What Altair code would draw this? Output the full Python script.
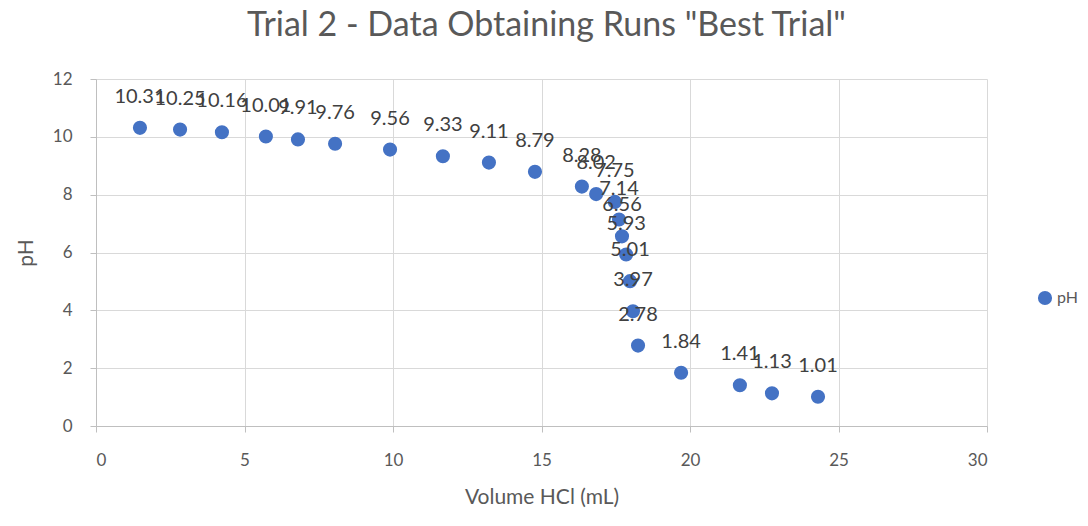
import altair as alt
import pandas as pd

volume = [1.48, 2.83, 4.24, 5.72, 6.80, 8.05, 9.90, 11.68, 13.23, 14.78, 16.36, 16.84,
          17.47, 17.61, 17.71, 17.85, 17.98, 18.08, 18.25, 19.70, 21.68, 22.76, 24.31]
ph = [10.31, 10.25, 10.16, 10.01, 9.91, 9.76, 9.56, 9.33, 9.11, 8.79, 8.28, 8.02,
      7.75, 7.14, 6.56, 5.93, 5.01, 3.97, 2.78, 1.84, 1.41, 1.13, 1.01]
labels = ["10.31", "10.25", "10.16", "10.01", "9.91", "9.76", "9.56", "9.33", "9.11", "8.79",
          "8.28", "8.02", "7.75", "7.14", "6.56", "5.93", "5.01", "3.97", "2.78", "1.84",
          "1.41", "1.13", "1.01"]

df = pd.DataFrame({"volume": volume, "ph": ph, "label": labels, "series": ["pH"] * len(ph)})

FONT = "Lato"
GRAY = "#595959"

x = alt.X("volume:Q", scale=alt.Scale(domain=[0, 30], nice=False),
          axis=alt.Axis(values=[0, 5, 10, 15, 20, 25, 30], title="Volume HCl (mL)",
                        titleFontSize=21, titleFont=FONT, titleColor=GRAY, titleFontWeight="normal",
                        labelFontSize=17, labelFont=FONT, labelColor=GRAY, labelPadding=20,
                        titlePadding=18, domainColor="#bfbfbf", tickColor="#bfbfbf",
                        tickSize=6, gridColor="#d9d9d9"))
y = alt.Y("ph:Q", scale=alt.Scale(domain=[0, 12], nice=False),
          axis=alt.Axis(values=[0, 2, 4, 6, 8, 10, 12], title="pH",
                        titleFontSize=21, titleFont=FONT, titleColor=GRAY, titleFontWeight="normal",
                        labelFontSize=17, labelFont=FONT, labelColor=GRAY, labelPadding=18,
                        titlePadding=16, domainColor="#bfbfbf", tickColor="#bfbfbf",
                        tickSize=6, gridColor="#d9d9d9"))

points = alt.Chart(df).mark_circle(size=200, opacity=1).encode(
    x=x, y=y,
    color=alt.Color("series:N", scale=alt.Scale(range=["#4472C4"]),
                    legend=alt.Legend(title=None, orient="none", legendX=941, legendY=211,
                                      labelFontSize=16, labelFont=FONT, labelColor=GRAY,
                                      symbolSize=200, symbolType="circle")),
)

text = alt.Chart(df).mark_text(dy=-31, fontSize=20, font=FONT, color="#404040").encode(
    x="volume:Q", y="ph:Q", text="label:N"
)

chart = (points + text).properties(
    width=891, height=347,
    title=alt.Title("Trial 2 - Data Obtaining Runs \"Best Trial\"", fontSize=34, font=FONT,
                    color=GRAY, fontWeight="normal", offset=27, anchor="middle", dx=5),
    autosize=alt.AutoSizeParams(type="none"),
    padding={"left": 88, "top": 71, "right": 93, "bottom": 92},
).configure_view(stroke=None)

chart.save("out.html", embed_options={"renderer": "svg", "actions": False})
